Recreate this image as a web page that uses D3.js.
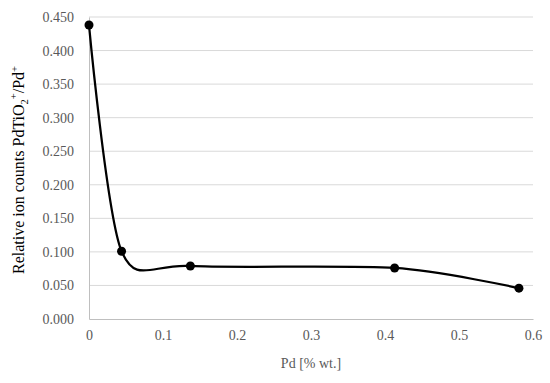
<!DOCTYPE html>
<html>
<head>
<meta charset="utf-8">
<script src="https://cdn.jsdelivr.net/npm/d3@7"></script>
<style>
  body { margin: 0; background: #fff; }
</style>
</head>
<body>
<div id="chart"></div>
<script>
const width = 550;
const height = 383;
const margin = {top: 17, right: 17, bottom: 64, left: 89};
const serif = "'Liberation Serif', serif";

// values
const pdContent = [0, 0.044, 0.137, 0.413, 0.581];
const ionRatio = [0.438, 0.101, 0.079, 0.076, 0.046];
const xTicks = [0, 0.1, 0.2, 0.3, 0.4, 0.5, 0.6];
const yTicks = [0, 0.05, 0.1, 0.15, 0.2, 0.25, 0.3, 0.35, 0.4, 0.45];

const points = pdContent.map((d, i) => ({x: d, y: ionRatio[i]}));

const svg = d3.select("#chart")
    .append("svg")
    .attr("width", width)
    .attr("height", height)
    .style("font-family", serif);

const x = d3.scaleLinear().domain([0, 0.6]).range([margin.left, width - margin.right]);
const y = d3.scaleLinear().domain([0, 0.45]).range([height - margin.bottom, margin.top]);

// gridlines
svg.append("g")
    .selectAll("line")
    .data(yTicks.slice(1))
    .join("line")
    .attr("x1", x(0))
    .attr("x2", x(0.6))
    .attr("y1", d => y(d))
    .attr("y2", d => y(d))
    .attr("stroke", "#d9d9d9")
    .attr("stroke-width", 1);

// y axis
const yAxis = svg.append("g")
    .attr("transform", `translate(${x(0)},0)`)
    .call(d3.axisLeft(y).tickValues(yTicks).tickFormat(d3.format(".3f")).tickSize(0).tickPadding(15));
yAxis.attr("font-family", serif);
yAxis.select(".domain").attr("stroke", "#bfbfbf");
yAxis.selectAll("text").attr("font-size", 14).attr("fill", "#595959");

// x axis
const xAxis = svg.append("g")
    .attr("transform", `translate(0,${y(0)})`)
    .call(d3.axisBottom(x).tickValues(xTicks).tickFormat(d => d3.format("")(d)).tickSize(0).tickPadding(11));
xAxis.attr("font-family", serif);
xAxis.select(".domain").attr("stroke", "#bfbfbf");
xAxis.selectAll("text").attr("font-size", 14).attr("fill", "#595959");

// axis titles
svg.append("text")
    .attr("x", (x(0) + x(0.6)) / 2)
    .attr("y", 368)
    .attr("text-anchor", "middle")
    .attr("font-size", 14)
    .attr("fill", "#595959")
    .text("Pd [% wt.]");

const yTitle = svg.append("text")
    .attr("transform", `translate(24,170) rotate(-90)`)
    .attr("text-anchor", "middle")
    .attr("font-size", 16)
    .attr("fill", "#000");
yTitle.append("tspan").text("Relative ion counts PdTiO");
yTitle.append("tspan").attr("font-size", 10.5).attr("dy", 4).text("2");
yTitle.append("tspan").attr("font-size", 10.5).attr("dy", -11).text("+");
yTitle.append("tspan").attr("dy", 7).text("/Pd");
yTitle.append("tspan").attr("font-size", 10.5).attr("dy", -6).text("+");

// smoothed line
const line = d3.line()
    .x(d => x(d.x))
    .y(d => y(d.y))
    .curve(d3.curveCardinal.tension(0.15));

svg.append("path")
    .datum(points)
    .attr("d", line)
    .attr("fill", "none")
    .attr("stroke", "#000")
    .attr("stroke-width", 2.25);

svg.append("g")
    .selectAll("circle")
    .data(points)
    .join("circle")
    .attr("cx", d => x(d.x))
    .attr("cy", d => y(d.y))
    .attr("r", 4.5)
    .attr("fill", "#000");
</script>
</body>
</html>
